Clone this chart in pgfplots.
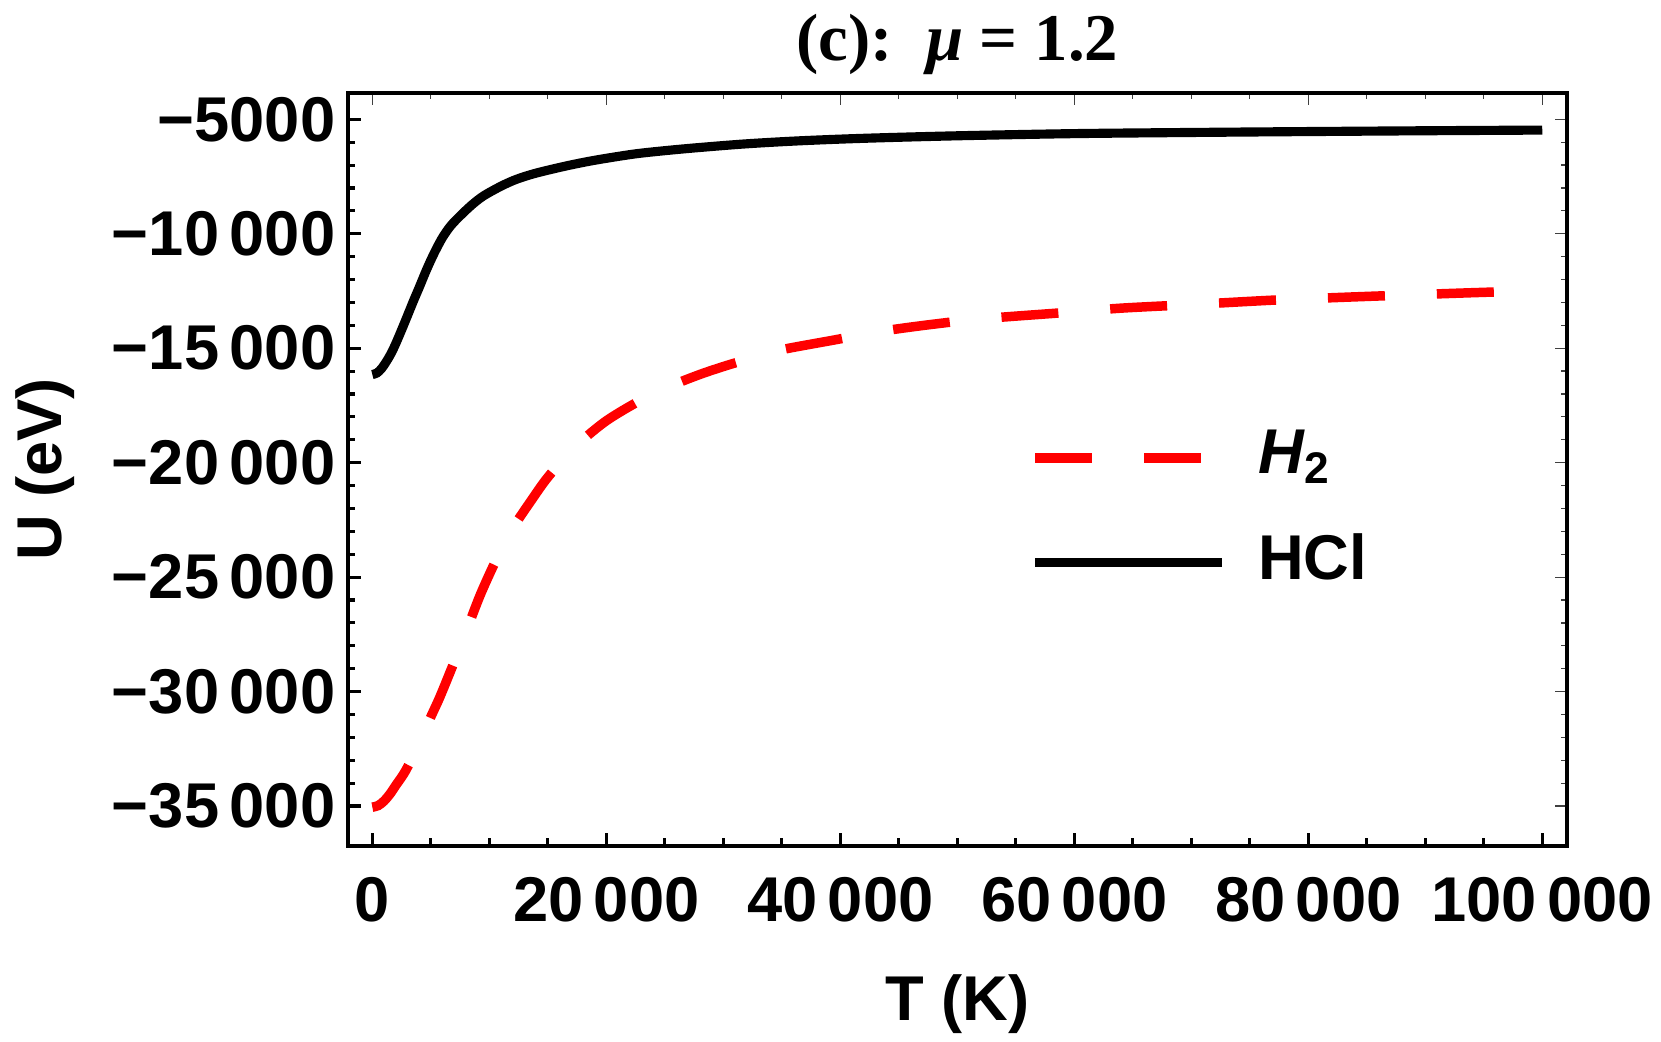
\documentclass[border=0pt]{standalone}
\usepackage{pgfplots}
\usepackage{pgfplotstable}
\pgfplotsset{compat=1.18}
\usepackage{fontspec}
\setmainfont{Liberation Sans}
\newfontfamily\titlefont{Liberation Serif}
\newcommand\lbl{\fontsize{18}{22}\selectfont\bfseries}
\pgfplotstableread{
T U
0 -35050
500 -34980
1000 -34780
1500 -34480
2000 -34100
2850 -33450
4000 -32250
5000 -31100
5790 -30215
7000 -28700
8000 -27400
9205 -25800
10500 -24337
12000 -22867
13650 -21600
14900 -20700
16500 -19750
18180 -18915
20000 -18170
22030 -17530
24000 -16990
26150 -16510
28300 -16090
30570 -15710
33000 -15350
35130 -15050
39700 -14620
43000 -14300
46950 -14015
52000 -13720
58700 -13460
64000 -13250
70480 -13080
77000 -12900
83800 -12760
93140 -12590
100000 -12480
}\htwo
\pgfplotstableread{
T U
0 -16150
400 -16080
800 -15880
1200 -15580
1600 -15230
2000 -14800
2500 -14200
3000 -13580
3500 -12950
4000 -12350
4650 -11550
5300 -10830
6000 -10160
6700 -9650
7500 -9220
8500 -8740
9500 -8346
11000 -7920
12340 -7616
14000 -7350
16600 -7034
19000 -6790
22300 -6522
25000 -6370
28000 -6230
32000 -6070
36500 -5940
42000 -5830
50000 -5720
60000 -5625
70000 -5575
80000 -5535
90000 -5500
100000 -5470
}\hcl
\begin{document}
\begin{tikzpicture}
\path[use as bounding box] (-3.478cm,-1.952cm) rectangle (13.132cm,8.458cm);
\begin{axis}[
  scale only axis, width=12.19cm, height=7.53cm,
  xmin=-2100, xmax=102100, ymin=-36739, ymax=-3842,
  scaled ticks=false,
  tick pos=left,
  xtick={0,20000,40000,60000,80000,100000},
  xticklabels={0,20\,000,40\,000,60\,000,80\,000,100\,000},
  ytick={-35000,-30000,-25000,-20000,-15000,-10000,-5000},
  yticklabels={−35\,000,−30\,000,−25\,000,−20\,000,−15\,000,−10\,000,−5000},
  minor x tick num=3, minor y tick num=4,
  tick align=inside,
  major tick length=0.13cm, minor tick length=0.075cm,
  every tick/.style={line width=0.9pt, black},
  axis line style={line width=1.3pt},
  tick label style={font=\lbl},
  xticklabel style={yshift=-0.19cm},
  every axis title shift=0pt,
  title={\titlefont\fontsize{19}{22}\selectfont\bfseries (c):\ \ \textit{μ} = 1.2},
  title style={at={([yshift=0.328cm]axis description cs:0.5,1)}, anchor=base, inner sep=0pt},
  xlabel={T (K)}, ylabel={U (eV)},
  label style={font=\lbl},
  xlabel style={at={([yshift=-1.742cm]axis description cs:0.5,0)}, anchor=base, inner sep=0pt},
  ylabel style={at={([xshift=-2.861cm]axis description cs:0,0.5)}, anchor=base, inner sep=0pt},
  legend image code/.code={\draw[#1] (0cm,-0.04cm) -- (1.87cm,-0.04cm);},
  legend cell align=left,
  legend style={draw=none, fill=none, font=\lbl, at={(axis description cs:0.5595,0.45)}, anchor=west, inner sep=0pt, row sep=0.41cm, column sep=0.24cm},
]
\addplot[red, line width=2.7pt, dash pattern=on 0.57cm off 0.52cm, smooth] table {\htwo};
\addlegendentry{\textit{H}\textsubscript{2}}
\addplot[black, line width=2.6pt, smooth] table {\hcl};
\addlegendentry{HCl}
\end{axis}
\begin{axis}[
  scale only axis, width=12.19cm, height=7.53cm,
  xmin=-2100, xmax=102100, ymin=-36739, ymax=-3842,
  scaled ticks=false,
  tick pos=right,
  xtick={0,20000,40000,60000,80000,100000},
  ytick={-35000,-30000,-25000,-20000,-15000,-10000,-5000},
  xticklabels={}, yticklabels={},
  minor x tick num=3, minor y tick num=4,
  tick align=inside,
  major tick length=0.12cm, minor tick length=0.06cm,
  every tick/.style={line width=0.35pt, black!75},
  axis line style={line width=1.3pt},
]
\end{axis}
\end{tikzpicture}
\end{document}
